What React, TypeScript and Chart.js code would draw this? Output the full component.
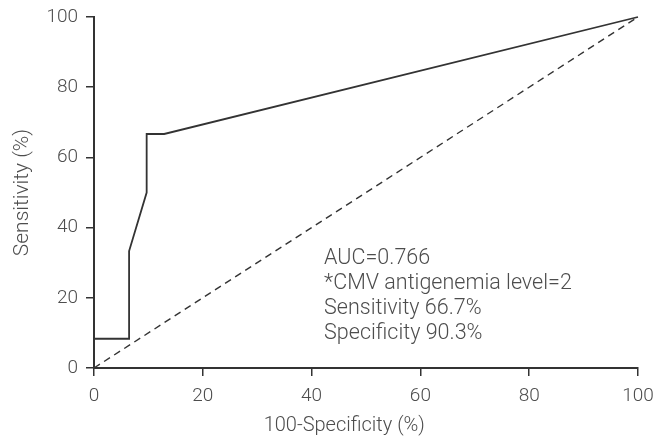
import React, { useEffect, useRef } from "react";
import { Chart, registerables } from "chart.js";

Chart.register(...registerables);

// ROC curve (100 - specificity, sensitivity), in %
const fprValues = [0, 0, 6.45, 6.45, 9.68, 9.68, 12.9, 100];
const tprValues = [0, 8.33, 8.33, 33.33, 50, 66.67, 66.67, 100];
// Reference (chance) line
const refX = [0, 100];
const refY = [0, 100];

const xTitle = "100-Specificity (%)";
const yTitle = "Sensitivity (%)";
const annotationLines = [
  "AUC=0.766",
  "*CMV antigenemia level=2",
  "Sensitivity 66.7%",
  "Specificity 90.3%",
];
// annotation anchor in data units (first line baseline)
const annotationAnchor = { x: 42.3, y: 29.6 };
// x title centre in data units
const xTitleCenter = 46;

const FONT = "Roboto, 'Liberation Sans', sans-serif";
const TEXT = "#4d4d4d";
const LINE = "#333333";

export default function App() {
  const ref = useRef<HTMLCanvasElement | null>(null);

  useEffect(() => {
    if (!ref.current) return;
    const annotationPlugin = {
      id: "annot",
      afterDraw(chart: any) {
        const { ctx, scales } = chart;
        const x = scales.x.getPixelForValue(annotationAnchor.x);
        const y0 = scales.y.getPixelForValue(annotationAnchor.y);
        ctx.save();
        ctx.fillStyle = TEXT;
        ctx.font = `300 21.5px ${FONT}`;
        ctx.textAlign = "left";
        ctx.textBaseline = "alphabetic";
        annotationLines.forEach((t, i) => ctx.fillText(t, x, y0 + i * 25));
        // x axis title
        ctx.font = `300 20px ${FONT}`;
        ctx.textAlign = "center";
        ctx.textBaseline = "middle";
        ctx.fillText(xTitle, scales.x.getPixelForValue(xTitleCenter), scales.x.bottom - 12);
        ctx.restore();
      },
    };

    const chart = new Chart(ref.current, {
      type: "scatter",
      data: {
        datasets: [
          {
            data: fprValues.map((v, i) => ({ x: v, y: tprValues[i] })),
            showLine: true,
            borderColor: LINE,
            borderWidth: 1.8,
            pointRadius: 0,
            tension: 0,
            clip: false as any,
          },
          {
            data: refX.map((v, i) => ({ x: v, y: refY[i] })),
            showLine: true,
            borderColor: LINE,
            borderWidth: 1.4,
            borderDash: [7, 5],
            pointRadius: 0,
            clip: false as any,
          },
        ],
      },
      options: {
        animation: false,
        responsive: true,
        maintainAspectRatio: false,
        layout: { padding: { left: 0, right: 20, top: 17, bottom: 0 } },
        plugins: { legend: { display: false }, tooltip: { enabled: false } },
        scales: {
          x: {
            type: "linear",
            min: 0,
            max: 100,
            afterFit(scale: any) {
              scale.height = 70;
              scale.paddingLeft = 0;
              scale.paddingRight = 0;
            },
            ticks: {
              stepSize: 20,
              color: TEXT,
              padding: 9,
              font: { family: FONT, size: 19, weight: "300" as any },
            },
            grid: {
              drawOnChartArea: false,
              drawTicks: true,
              tickLength: 8,
              color: LINE,
              lineWidth: 1.5,
            },
            border: { display: true, color: LINE, width: 2 },
            title: { display: false, text: xTitle },
          },
          y: {
            type: "linear",
            min: 0,
            max: 100,
            afterFit(scale: any) {
              scale.width = 94;
              scale.paddingTop = 0;
              scale.paddingBottom = 0;
            },
            ticks: {
              stepSize: 20,
              color: TEXT,
              padding: 8,
              font: { family: FONT, size: 19, weight: "300" as any },
            },
            grid: {
              drawOnChartArea: false,
              drawTicks: true,
              tickLength: 8,
              color: LINE,
              lineWidth: 1.5,
            },
            border: { display: true, color: LINE, width: 2 },
            title: {
              display: true,
              text: yTitle,
              color: TEXT,
              padding: { top: 10, bottom: 0 },
              font: { family: FONT, size: 21, weight: "300" as any },
            },
          },
        },
      },
      plugins: [annotationPlugin],
    });
    return () => chart.destroy();
  }, []);

  return (
    <div
      style={{
        position: "fixed",
        left: 0,
        top: 0,
        width: 658,
        height: 438,
        background: "#ffffff",
      }}
    >
      <canvas ref={ref} />
    </div>
  );
}
